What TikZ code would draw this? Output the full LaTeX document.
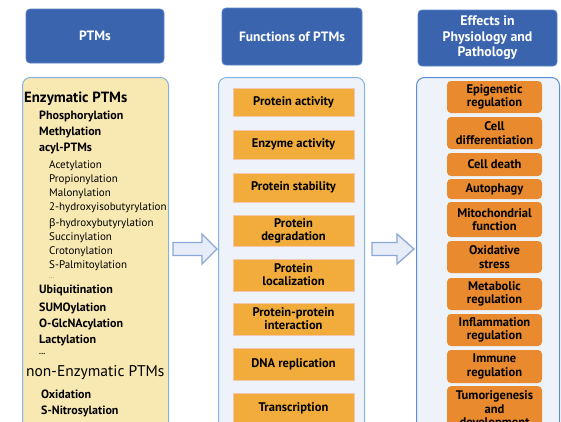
\documentclass[tikz,border=0pt]{standalone}
\usepackage{fontspec}
\setmainfont{PT Sans}
\newfontfamily\grkfont{Noto Sans}
\definecolor{hdrblue}{HTML}{3A65AE}
\definecolor{hdrline}{HTML}{5A86C8}
\definecolor{panline}{HTML}{86B2E2}
\definecolor{panlineR}{HTML}{5A8FD6}
\definecolor{yellowfill}{HTML}{F8E8B2}
\definecolor{bluefill}{HTML}{EEF3FA}
\definecolor{midorange}{HTML}{F2AC3C}
\definecolor{midline}{HTML}{F2C6B0}
\definecolor{rightorange}{HTML}{E98A2F}
\definecolor{arrfill}{HTML}{E7EDF8}
\definecolor{arrline}{HTML}{8DA7D6}
\begin{document}
\begin{tikzpicture}[x=1pt,y=-1pt,
  hdr/.style={fill=hdrblue, draw=hdrline, line width=0.8pt, rounded corners=4pt, text=white,
    font=\bfseries\fontsize{13.5}{15}\selectfont, align=center, inner sep=0pt},
  panel/.style={draw=panline, line width=1pt, rounded corners=8pt, anchor=north west, inner sep=0pt},
  midbox/.style={fill=midorange, draw=midline, line width=0.8pt, minimum width=121pt,
    align=center, inner sep=0pt, font=\bfseries\fontsize{12.5}{13}\selectfont},
  rbox/.style={fill=rightorange, rounded corners=4pt, minimum width=95pt,
    align=center, inner sep=0pt, font=\bfseries\fontsize{12.5}{13.5}\selectfont},
  bigtxt/.style={anchor=west, inner sep=0pt, font=\bfseries\fontsize{14.8}{15}\selectfont},
  mtxt/.style={anchor=west, inner sep=0pt, font=\bfseries\fontsize{12}{13}\selectfont},
  stxt/.style={anchor=west, inner sep=0pt, font=\fontsize{11}{13}\selectfont},
  blockarrow/.style={fill=arrfill, draw=arrline, line width=1.3pt, line join=miter}
]
\clip (0,0) rectangle (561,421);
\fill[white] (0,0) rectangle (561,421);

% headers
\node[hdr, minimum width=138pt, minimum height=54pt] (h1) at (95,36) {PTMs};
\node[hdr, minimum width=140pt, minimum height=57pt] (h2) at (292,36.5) {Functions of PTMs};
\node[hdr, minimum width=139pt, minimum height=56pt, font=\bfseries\fontsize{13.8}{15.5}\selectfont] (h3) at (487.5,38) {Effects in\\Physiology and\\Pathology};

% panels
\node[panel, fill=yellowfill, minimum width=146pt, minimum height=380pt] (p1) at (22,77) {};
\node[panel, fill=bluefill, minimum width=146pt, minimum height=380pt] (p2) at (218,77) {};
\node[panel, fill=bluefill, draw=panlineR, minimum width=143pt, minimum height=380pt] (p3) at (416,77) {};

% left list
\node[bigtxt] (t1) at (24,99) {Enzymatic PTMs};
\node[mtxt] (t2) at (39,116) {Phosphorylation};
\node[mtxt] (t3) at (39,132) {Methylation};
\node[mtxt] (t4) at (39,148) {acyl-PTMs};
\node[stxt] (t5) at (49,166) {Acetylation};
\node[stxt] (t6) at (49,180) {Propionylation};
\node[stxt] (t7) at (49,194) {Malonylation};
\node[stxt] (t8) at (49,208) {2-hydroxyisobutyrylation};
\node[stxt] (t9) at (49,224) {{\grkfont\fontsize{10.5}{13}\selectfont β}-hydroxybutyrylation};
\node[stxt] (t10) at (49,238) {Succinylation};
\node[stxt] (t11) at (49,252) {Crotonylation};
\node[stxt] (t12) at (49,266) {S-Palmitoylation};
\node[stxt, text=gray, font=\fontsize{7}{8}\selectfont] (t13) at (49,278.5) {...};
\node[mtxt] (t14) at (39,290) {Ubiquitination};
\node[mtxt] (t15) at (39,308) {SUMOylation};
\node[mtxt] (t16) at (39,324) {O-GlcNAcylation};
\node[mtxt] (t17) at (39,340) {Lactylation};
\node[mtxt, font=\bfseries\fontsize{8}{9}\selectfont] (t18) at (39,353.5) {...};
\node[anchor=west, inner sep=0pt, font=\fontsize{15.5}{16}\selectfont] (t19) at (26,373) {non-Enzymatic PTMs};
\node[mtxt] (t20) at (41,394) {Oxidation};
\node[mtxt] (t21) at (41,411) {S-Nitrosylation};

% middle boxes
\node[midbox, minimum height=28pt] (m1) at (293.5,102.5) {Protein activity};
\node[midbox, minimum height=29pt] (m2) at (293.5,144.5) {Enzyme activity};
\node[midbox, minimum height=29pt] (m3) at (293.5,187.5) {Protein stability};
\node[midbox, minimum height=31pt] (m4) at (293.5,230.5) {Protein\\degradation};
\node[midbox, minimum height=32pt] (m5) at (293.5,275) {Protein\\localization};
\node[midbox, minimum height=32pt] (m6) at (293.5,319) {Protein-protein\\interaction};
\node[midbox, minimum height=32pt] (m7) at (293.5,364) {DNA replication};
\node[midbox, minimum height=31pt] (m8) at (293.5,408.5) {Transcription};

% right boxes
\node[rbox, minimum height=32pt] (r1) at (494.5,97) {Epigenetic\\regulation};
\node[rbox, minimum height=32pt] (r2) at (494.5,133) {Cell\\differentiation};
\node[rbox, minimum height=23pt] (r3) at (494.5,164.5) {Cell death};
\node[rbox, minimum height=20pt] (r4) at (494.5,189) {Autophagy};
\node[rbox, minimum height=35pt] (r5) at (494.5,219.5) {Mitochondrial\\function};
\node[rbox, minimum height=32pt] (r6) at (494.5,257) {Oxidative\\stress};
\node[rbox, minimum height=32pt] (r7) at (494.5,294) {Metabolic\\regulation};
\node[rbox, minimum height=32pt] (r8) at (494.5,330) {Inflammation\\regulation};
\node[rbox, minimum height=33pt] (r9) at (494.5,366.5) {Immune\\regulation};
\node[rbox, minimum height=48pt, anchor=north] (r10) at (494.5,386) {Tumorigenesis\\and\\development};

% block arrows
\draw[blockarrow] (173,242.5) -- (202,242.5) -- (202,234) -- (217,249) -- (202,264) -- (202,255.5) -- (173,255.5) -- cycle;
\draw[blockarrow] (372,242.5) -- (397,242.5) -- (397,234) -- (414,249) -- (397,264) -- (397,255.5) -- (372,255.5) -- cycle;
\end{tikzpicture}
\end{document}
